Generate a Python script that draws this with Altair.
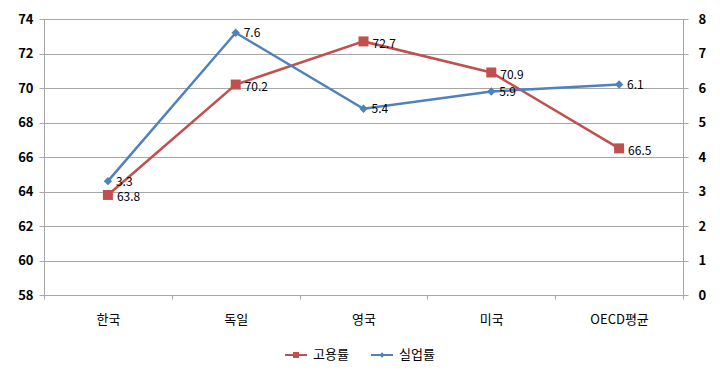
import altair as alt
import pandas as pd

categories = ["한국", "독일", "영국", "미국", "OECD평균"]
employment = [63.8, 70.2, 72.7, 70.9, 66.5]
unemployment = [3.3, 7.6, 5.4, 5.9, 6.1]
series_names = ["고용률", "실업률"]
colors = ["#C0504D", "#4F81BD"]

emp_df = pd.DataFrame({"국가": categories, "값": employment, "계열": series_names[0]})
unemp_df = pd.DataFrame({"국가": categories, "값": unemployment, "계열": series_names[1]})
legend_df = pd.DataFrame({"계열": series_names})

FONT = "Noto Sans CJK KR"

x_enc = alt.X("국가:N", sort=categories, title=None,
              scale=alt.Scale(paddingInner=0, paddingOuter=0),
              axis=alt.Axis(labelAngle=0, labelPadding=14, tickBand="extent",
                            tickSize=4, domainColor="#A6A6A6", tickColor="#A6A6A6",
                            labelFont=FONT, labelFontSize=13, labelColor="#000000",
                            grid=False))

LEG_SQUARE = "M-1,-0.08H1V0.08H-1Z M-0.27,-0.27H0.27V0.27H-0.27Z"
LEG_DIAMOND = "M-1,-0.08H1V0.08H-1Z M0,-0.24L0.24,0L0,0.24L-0.24,0Z"

legend = alt.Legend(
    title=None, orient="none", direction="horizontal", legendX=241, legendY=325,
    labelFont=FONT, labelFontSize=13, labelColor="#000", symbolSize=484,
    symbolStrokeWidth=0, symbolOpacity=1, columnPadding=22, labelOffset=6,
)
color_enc = alt.Color("계열:N", scale=alt.Scale(domain=series_names, range=colors), legend=legend)
shape_enc = alt.Shape("계열:N", scale=alt.Scale(domain=series_names, range=[LEG_SQUARE, LEG_DIAMOND]),
                      legend=legend)

left_axis = alt.Axis(values=list(range(58, 75, 2)), tickSize=5, domainColor="#A6A6A6",
                     tickColor="#A6A6A6", gridColor="#A6A6A6", gridWidth=1,
                     labelFont=FONT, labelFontSize=13, labelFontWeight="bold",
                     labelColor="#000", labelPadding=6, title=None)
right_axis = alt.Axis(values=list(range(0, 9)), orient="right", tickSize=5,
                      domainColor="#A6A6A6", tickColor="#A6A6A6", grid=False,
                      labelFont=FONT, labelFontSize=13, labelFontWeight="bold",
                      labelColor="#000", labelPadding=10, title=None)

emp_y = alt.Y("값:Q", scale=alt.Scale(domain=[58, 74], nice=False, zero=False), axis=left_axis)
unemp_y = alt.Y("값:Q", scale=alt.Scale(domain=[0, 8], nice=False), axis=right_axis)

emp_line = alt.Chart(emp_df).mark_line(strokeWidth=2.5).encode(x=x_enc, y=emp_y, color=color_enc)
emp_pts = alt.Chart(emp_df).mark_point(filled=True, size=100, opacity=1, shape="square").encode(
    x=x_enc, y=emp_y, color=color_enc)
emp_txt = alt.Chart(emp_df).mark_text(align="left", dx=9, dy=2.5, font=FONT, fontSize=12,
                                      color="#000").encode(x=x_enc, y=emp_y, text=alt.Text("값:Q", format=".1f"))
legend_pts = alt.Chart(legend_df).mark_point(filled=True, opacity=0, size=484).encode(
    x=alt.value(0), y=alt.value(0), color=color_enc, shape=shape_enc)
emp_layer = alt.layer(emp_line, emp_pts, emp_txt, legend_pts)

unemp_line = alt.Chart(unemp_df).mark_line(strokeWidth=2.5).encode(x=x_enc, y=unemp_y, color=color_enc)
unemp_pts = alt.Chart(unemp_df).mark_point(filled=True, size=70, opacity=1, shape="diamond").encode(
    x=x_enc, y=unemp_y, color=color_enc)
unemp_txt = alt.Chart(unemp_df).mark_text(align="left", dx=8, dy=0.5, font=FONT, fontSize=12,
                                          color="#000").encode(
    x=x_enc, y=unemp_y, text=alt.Text("값:Q", format=".1f"))
unemp_layer = alt.layer(unemp_line, unemp_pts, unemp_txt)

chart = alt.layer(emp_layer, unemp_layer).resolve_scale(y="independent").properties(
    width=639, height=276,
    autosize=alt.AutoSizeParams(type="none"),
    padding={"left": 36, "top": 11, "right": 29, "bottom": 78},
).configure_view(stroke=None).configure(background="white")

chart.save("out.html", embed_options={"renderer": "svg", "actions": False})
